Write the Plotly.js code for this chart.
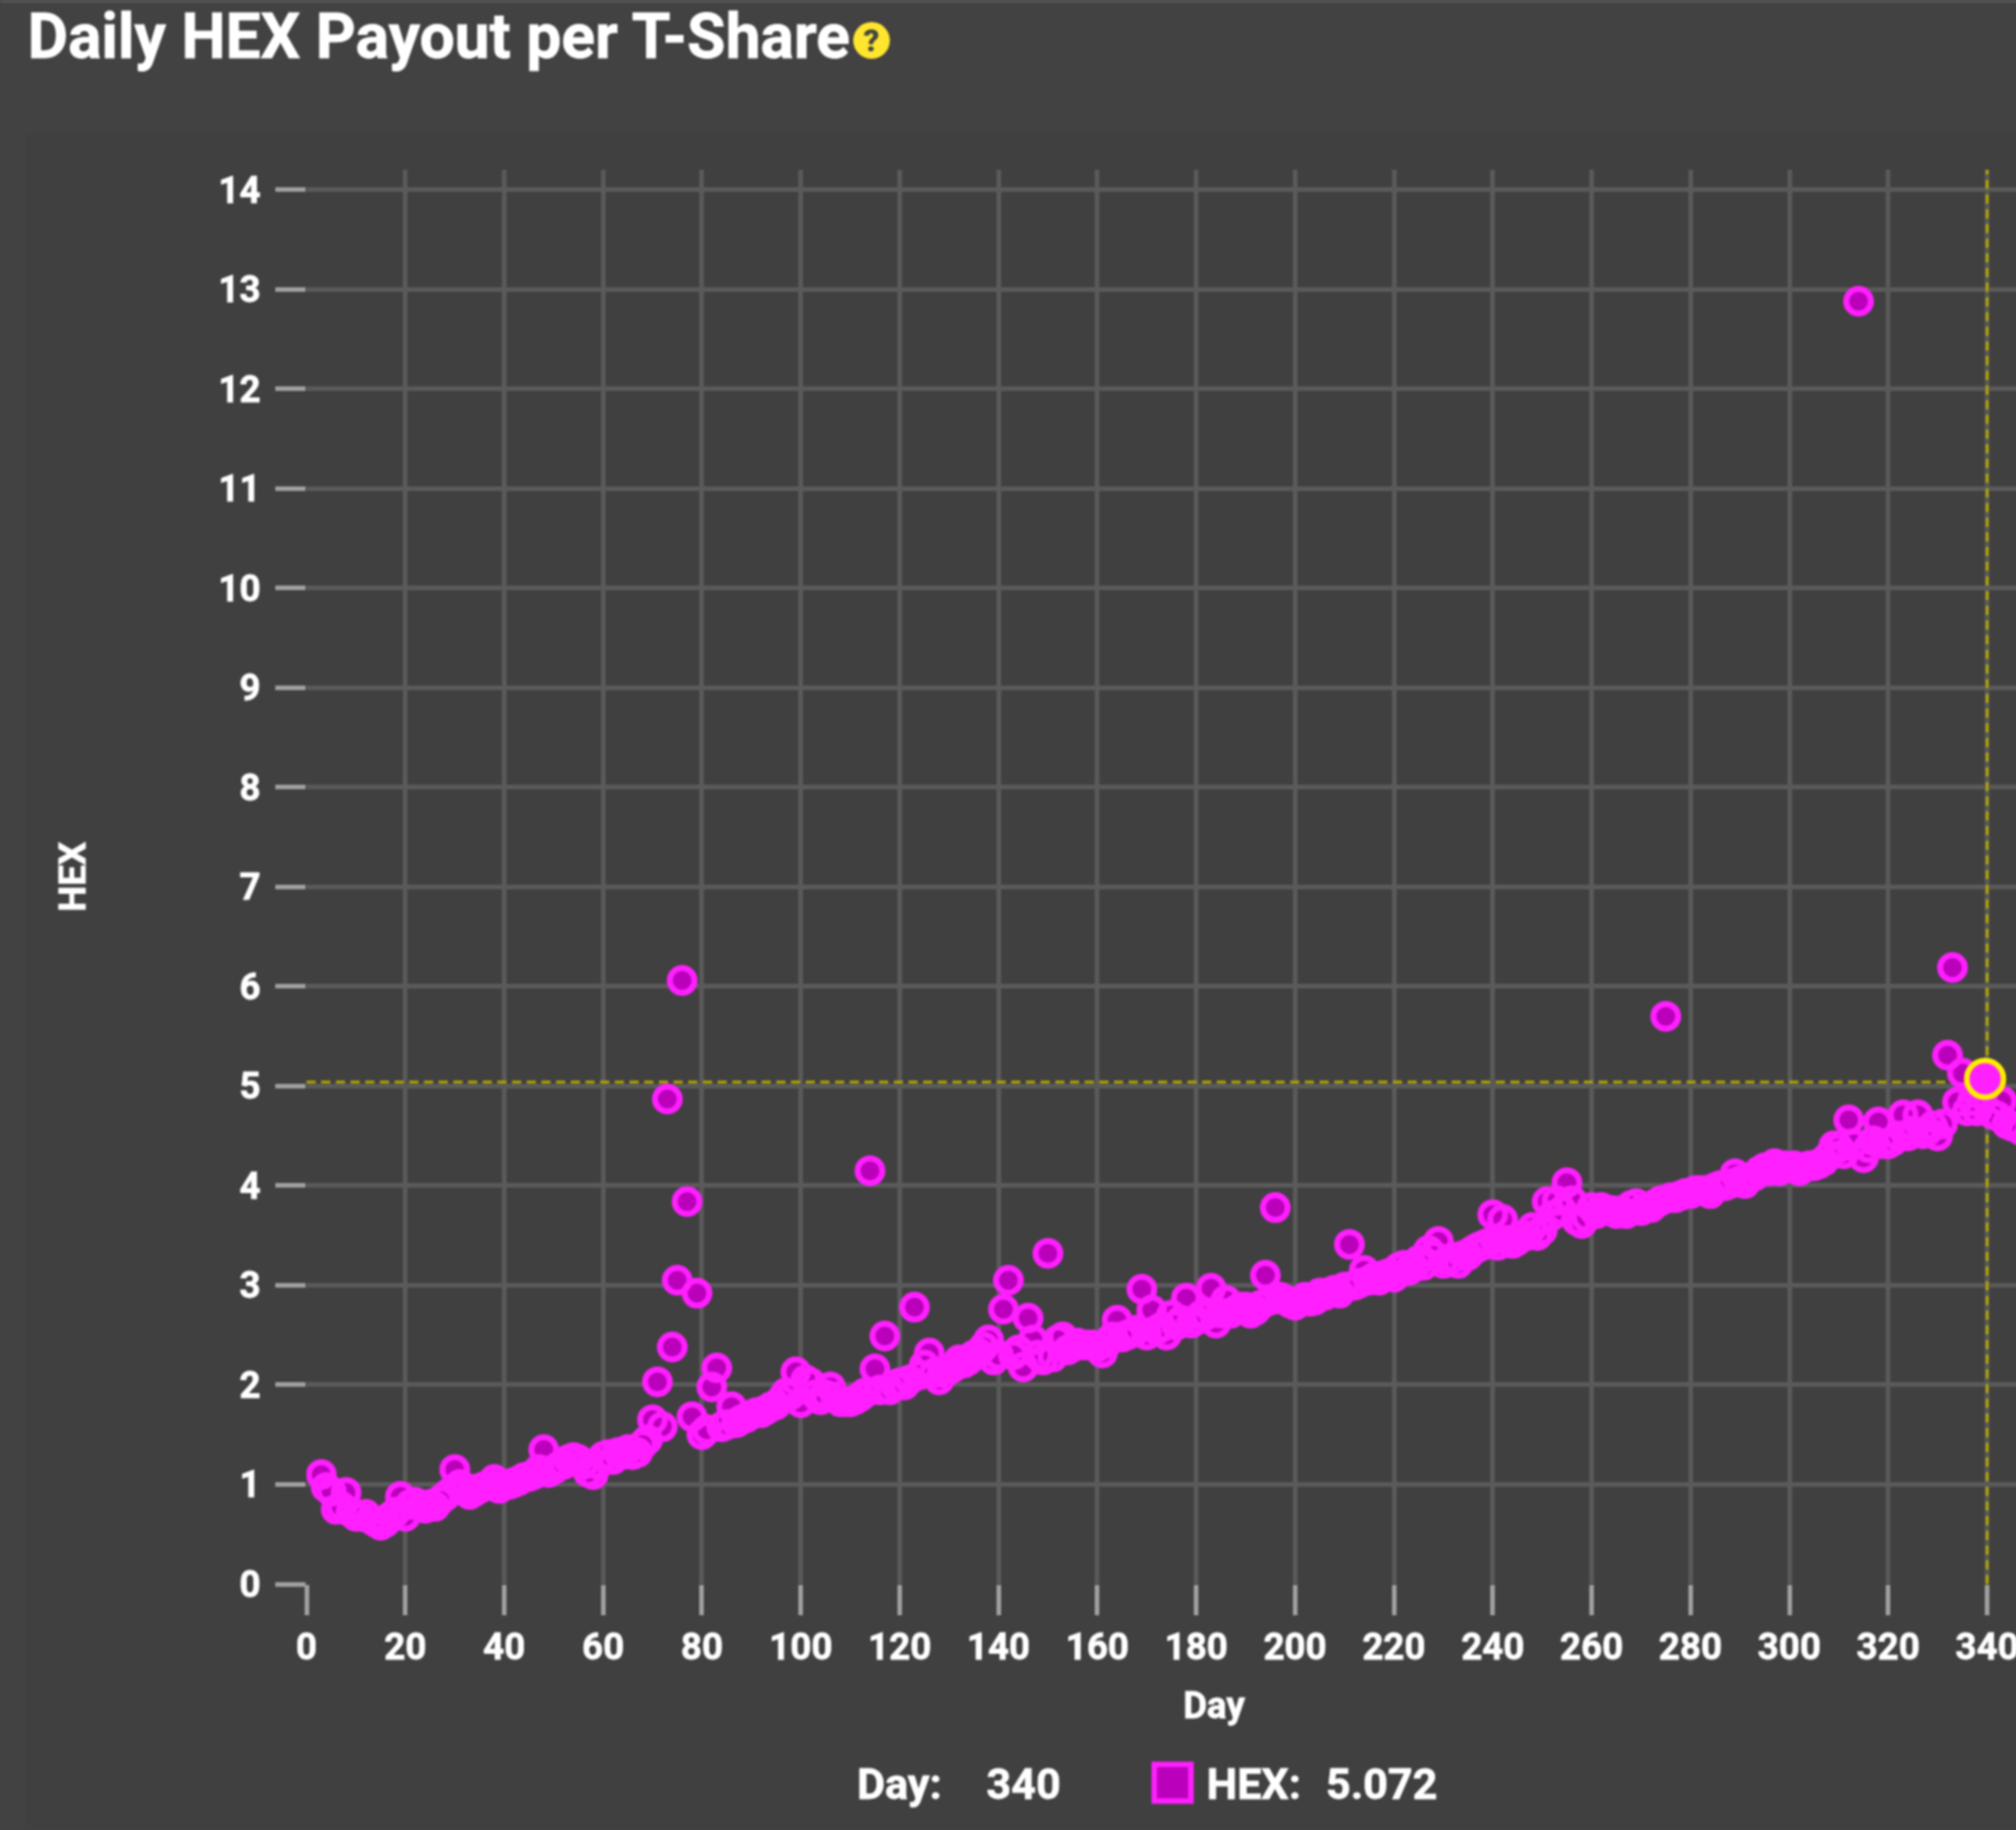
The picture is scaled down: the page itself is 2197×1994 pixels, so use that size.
<!DOCTYPE html>
<html>
<head>
<meta charset="utf-8">
<script src="https://cdn.plot.ly/plotly-3.0.1.min.js"></script>
<style>
html,body{margin:0;padding:0;width:2197px;height:1994px;overflow:hidden;background:#424242}
#chart{width:2312px;height:1994px;filter:blur(0.8px)}
#chart text{stroke:#ffffff;stroke-width:0.8px}
#chart text[data-unformatted="?"]{stroke:none}
</style>
</head>
<body>
<div id="chart"></div>
<script>
const chartTitle = "Daily HEX Payout per T-Share";
const xTitle = "Day";
const yTitle = "HEX";
const seriesName = "HEX";
const firstDay = 3;
const payout = [
1.10,0.97,0.93,0.75,0.78,0.92,0.72,0.68,0.68,0.70,0.65,0.62,0.59,0.62,0.68,0.72,0.88,0.68,0.80,0.82,
0.78,0.76,0.80,0.78,0.84,0.88,0.92,1.15,1.00,0.97,0.90,0.93,0.96,0.98,1.00,1.05,0.96,1.00,1.00,1.02,
1.04,1.07,1.08,1.10,1.15,1.35,1.12,1.15,1.18,1.20,1.25,1.27,1.25,1.20,1.12,1.10,1.20,1.28,1.30,1.25,
1.32,1.30,1.35,1.30,1.32,1.40,1.45,1.65,2.03,1.58,4.87,2.38,3.05,6.06,3.84,1.68,2.92,1.50,1.55,1.98,
2.17,1.58,1.60,1.78,1.62,1.65,1.67,1.70,1.72,1.72,1.75,1.78,1.80,1.85,1.92,1.90,2.13,1.82,2.05,2.02,
1.90,1.85,1.90,1.98,1.88,1.83,1.83,1.83,1.85,1.88,1.92,4.15,2.16,1.95,2.49,1.95,2.00,2.02,2.00,2.05,
2.78,2.10,2.20,2.32,2.12,2.05,2.12,2.15,2.18,2.25,2.22,2.25,2.30,2.32,2.38,2.45,2.25,2.30,2.76,3.05,
2.30,2.35,2.18,2.67,2.45,2.30,2.25,3.32,2.28,2.45,2.48,2.35,2.38,2.42,2.40,2.40,2.40,2.38,2.32,2.42,
2.48,2.65,2.48,2.50,2.52,2.55,2.96,2.50,2.75,2.55,2.58,2.50,2.70,2.60,2.65,2.87,2.62,2.65,2.70,2.70,
2.97,2.62,2.72,2.85,2.72,2.75,2.78,2.78,2.72,2.75,2.80,3.10,2.85,3.78,2.88,2.85,2.82,2.80,2.85,2.88,
2.84,2.85,2.92,2.90,2.93,2.95,2.92,2.98,3.41,3.00,3.02,3.15,3.05,3.08,3.05,3.10,3.12,3.08,3.18,3.20,
3.15,3.18,3.25,3.20,3.35,3.30,3.44,3.22,3.25,3.28,3.22,3.30,3.30,3.35,3.38,3.40,3.42,3.71,3.40,3.66,
3.45,3.42,3.45,3.50,3.50,3.58,3.50,3.55,3.84,3.70,3.85,3.75,4.03,3.85,3.65,3.62,3.68,3.78,3.72,3.78,
3.75,3.75,3.72,3.75,3.72,3.80,3.82,3.75,3.78,3.78,3.82,3.85,5.70,3.88,3.88,3.90,3.92,3.92,3.95,3.95,
3.95,3.92,3.98,4.00,4.00,4.02,4.12,4.05,4.02,4.08,4.10,4.15,4.18,4.15,4.22,4.15,4.20,4.18,4.20,4.15,
4.18,4.20,4.20,4.22,4.25,4.30,4.40,4.38,4.32,4.66,4.42,12.88,4.28,4.38,4.45,4.64,4.42,4.42,4.45,4.50,
4.71,4.50,4.55,4.71,4.52,4.55,4.60,4.50,4.62,5.31,6.19,4.84,5.13,4.75,4.85,4.75,4.90,5.072,4.72,4.70,
4.85,4.62,4.60,4.58,4.55
];
const days = payout.map((_, i) => firstDay + i);
const selectedDay = 340;
const selectedValue = 5.072;
const crosshairValue = 5.04;

const W = 2312, H = 1994;
const L = 334.3, T = 185, B = 1726.5;
const px = v => (v - L) / (W - L);
const py = v => (B - v) / (B - T);

const traces = [
  {x:[0,selectedDay], y:[crosshairValue,crosshairValue], mode:'lines', hoverinfo:'skip', showlegend:false,
   line:{color:'#b3a600',width:3,dash:'10px,6px'}},
  {x:[selectedDay,selectedDay], y:[0,14.2], mode:'lines', hoverinfo:'skip', showlegend:false,
   line:{color:'#b3a600',width:3,dash:'10px,6px'}},
  {x:days, y:payout, mode:'markers', type:'scatter', name:seriesName, showlegend:false,
   marker:{size:27,color:'#bb00bb',line:{width:0}}},
  {x:days, y:payout, mode:'markers', type:'scatter', name:seriesName, showlegend:false, hoverinfo:'skip',
   marker:{size:27,color:'rgba(0,0,0,0)',line:{color:'#ff1fff',width:6.5}}},
  {x:[selectedDay-0.4], y:[selectedValue], mode:'markers', showlegend:false, hoverinfo:'skip',
   marker:{size:40,color:'#ff1fff',line:{color:'#ffee00',width:6}}}
];

const label = (x, t, size) => ({xref:'paper',yref:'paper',x:px(x),y:py(1944),xanchor:'left',yanchor:'middle',
  showarrow:false,text:t,font:{family:'Roboto',size:size,weight:700,color:'#ffffff'}});

const layout = {
  width:W, height:H,
  paper_bgcolor:'#424242', plot_bgcolor:'rgba(0,0,0,0)',
  margin:{l:L,r:0,t:T,b:H-B,pad:0},
  font:{family:'Roboto',color:'#ffffff'},
  title:{text:chartTitle,xref:'container',yref:'container',x:30/W,xanchor:'left',y:1-39/H,yanchor:'middle',
    font:{family:'Roboto',size:68,weight:700,color:'#ffffff'}},
  xaxis:{range:[0,367.2],dtick:20,tick0:0,showgrid:true,gridcolor:'#5a5a5a',gridwidth:5,zeroline:false,showline:false,
    ticks:'outside',ticklen:33,tickwidth:5,tickcolor:'#a0a0a0',ticklabelstandoff:0,
    tickfont:{family:'Roboto',size:40,weight:700,color:'#ffffff'},
    title:{text:xTitle,standoff:26,font:{family:'Roboto',size:40,weight:700,color:'#ffffff'}}},
  yaxis:{range:[0,14.2],dtick:1,tick0:0,showgrid:true,gridcolor:'#5a5a5a',gridwidth:5,zeroline:false,showline:false,
    ticks:'outside',ticklen:33,tickwidth:5,tickcolor:'#a0a0a0',ticklabelstandoff:8,
    tickfont:{family:'Roboto',size:40,weight:700,color:'#ffffff'},
    title:{text:yTitle,standoff:132,font:{family:'Roboto',size:40,weight:700,color:'#ffffff'}}},
  shapes:[
    {type:'rect',layer:'below',xref:'paper',yref:'paper',x0:px(28),x1:px(2312),y0:py(146),y1:py(1994),fillcolor:'#404040',line:{width:0}},
    {type:'rect',layer:'below',xref:'paper',yref:'paper',x0:px(0),x1:px(2312),y0:py(0),y1:py(3),fillcolor:'#555555',line:{width:0}},
    {type:'circle',layer:'above',xref:'paper',yref:'paper',x0:px(930),x1:px(970),y0:py(24),y1:py(64),fillcolor:'#ffe52e',line:{width:0}},
    {type:'rect',layer:'above',xref:'paper',yref:'paper',x0:px(1258),x1:px(1298),y0:py(1923),y1:py(1963),fillcolor:'#bb00bb',line:{color:'#ff1fff',width:6}}
  ],
  annotations:[
    {xref:'paper',yref:'paper',x:px(950),y:py(44),xanchor:'center',yanchor:'middle',showarrow:false,text:'?',
     font:{family:'Roboto',size:34,weight:900,color:'#424242'}},
    label(932,'Day:',47), label(1073,String(selectedDay),47),
    label(1313,seriesName+':',47), label(1443,selectedValue.toFixed(3),47)
  ]
};
Plotly.newPlot('chart',traces,layout,{displayModeBar:false,responsive:false});
</script>
</body>
</html>
